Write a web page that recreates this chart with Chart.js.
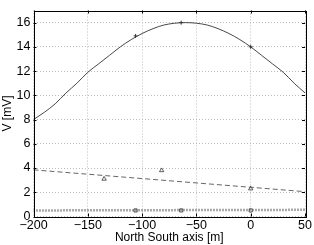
<!DOCTYPE html>
<html><head><meta charset="utf-8">
<script src="https://cdn.jsdelivr.net/npm/chart.js@4/dist/chart.umd.min.js"></script>
<style>html,body{margin:0;padding:0;background:#fff;}#c{display:block;}</style>
</head><body>
<canvas id="c" width="314" height="245"></canvas>
<script>
// Top curve (V, mV) sampled every 10 m
const curveX = [-200,-190,-180,-170,-160,-150,-140,-130,-120,-110,-100,-90,-80,-70,-60,-50,-40,-30,-20,-10,0,10,20,30,40,50];
const curveY = [8.0,8.6,9.3,10.2,11.0,11.9,12.6,13.3,14.0,14.6,15.1,15.5,15.8,15.95,16.0,15.95,15.8,15.5,15.1,14.6,14.0,13.3,12.6,11.9,11.0,10.2];
// '+' markers on top curve
const plusX = [-106,-64,0];
const plusY = [14.9,16.0,14.0];
// dashed trend line
const dashX = [-200,50];
const dashY = [3.85,2.05];
// triangle measurements
const triX = [-135,-82,0];
const triY = [3.1,3.8,2.3];
// dotted baseline
const dotX = [-200,50];
const dotY = [0.5,0.55];
// square markers
const sqX = [-106,-64,0];
const sqY = [0.5,0.5,0.5];
// ticks
const xTicks = [-200,-150,-100,-50,0,50];
const yTicks = [0,2,4,6,8,10,12,14,16];

const pts = (xs, ys) => xs.map((x,i)=>({x:x,y:ys[i]}));
const FONT = {family:'"Liberation Sans", Arial, Helvetica, sans-serif', size:12.5};
const TFONT = {family:'"Liberation Sans", Arial, Helvetica, sans-serif', size:12};

const boxPlugin = {
  id:'box',
  afterDraw(chart){
    const {ctx, chartArea:a, scales:{x, y}} = chart;
    ctx.save();
    ctx.strokeStyle = '#000';
    ctx.lineWidth = 1;
    ctx.strokeRect(Math.round(a.left)+0.5, Math.round(a.top)+0.5, Math.round(a.right-a.left), Math.round(a.bottom-a.top));
    ctx.beginPath();
    xTicks.forEach(v=>{
      const px = Math.round(x.getPixelForValue(v))+0.5;
      ctx.moveTo(px, a.bottom); ctx.lineTo(px, a.bottom-3);
      ctx.moveTo(px, a.top); ctx.lineTo(px, a.top+3);
    });
    yTicks.forEach(v=>{
      const py = Math.round(y.getPixelForValue(v))+0.5;
      ctx.moveTo(a.left, py); ctx.lineTo(a.left+3, py);
      ctx.moveTo(a.right, py); ctx.lineTo(a.right-3, py);
    });
    ctx.stroke();
    ctx.restore();
  }
};

new Chart(document.getElementById('c'), {
  type:'scatter',
  data:{datasets:[
    {data:pts(curveX,curveY), showLine:true, borderColor:'#333', borderWidth:0.9, pointRadius:0, cubicInterpolationMode:'monotone'},
    {data:pts(plusX,plusY), showLine:false, pointStyle:'cross', pointRadius:2, borderColor:'#222', borderWidth:0.9},
    {data:pts(dashX,dashY), showLine:true, borderColor:'#555', borderWidth:0.9, borderDash:[5,3], pointRadius:0},
    {data:pts(triX,triY), showLine:false, pointStyle:'triangle', pointRadius:2.5, borderColor:'#333', borderWidth:0.8, backgroundColor:'rgba(0,0,0,0)'},
    {data:pts(dotX,dotY), showLine:true, borderColor:'#555', borderWidth:2.5, borderDash:[1,2], pointRadius:0},
    {data:pts(sqX,sqY), showLine:false, pointStyle:'rect', pointRadius:2.2, borderColor:'#222', borderWidth:0.8, backgroundColor:'#fff'}
  ]},
  options:{
    responsive:false, animation:false, devicePixelRatio:1,
    layout:{padding:{left:0, right:9, top:2, bottom:0}},
    plugins:{legend:{display:false}, tooltip:{enabled:false}},
    scales:{
      x:{type:'linear', min:-200, max:50,
        afterBuildTicks(ax){ ax.ticks = xTicks.map(v=>({value:v})); },
        afterFit(ax){ ax.height = 28.5; },
        border:{display:false, dash:[1,2]},
        grid:{color:'#bdbdbd', lineWidth:1, drawTicks:false},
        ticks:{color:'#000', font:FONT, padding:2, maxRotation:0, autoSkip:false,
          callback:v=>String(v).replace('-','\u2212')},
        title:{display:true, text:'North South axis [m]', color:'#000', font:TFONT, padding:{top:-2, bottom:0}}
      },
      y:{type:'linear', min:0, max:17,
        afterBuildTicks(ax){ ax.ticks = yTicks.map(v=>({value:v})); },
        afterFit(ax){ ax.width = 33.5; },
        border:{display:false, dash:[1,2]},
        grid:{color:'#bdbdbd', lineWidth:1, drawTicks:false},
        ticks:{color:'#000', font:FONT, padding:3, autoSkip:false},
        title:{display:true, text:'V [mV]', color:'#000', font:TFONT, padding:{top:0, bottom:0}}
      }
    }
  },
  plugins:[boxPlugin]
});
</script>
</body></html>
